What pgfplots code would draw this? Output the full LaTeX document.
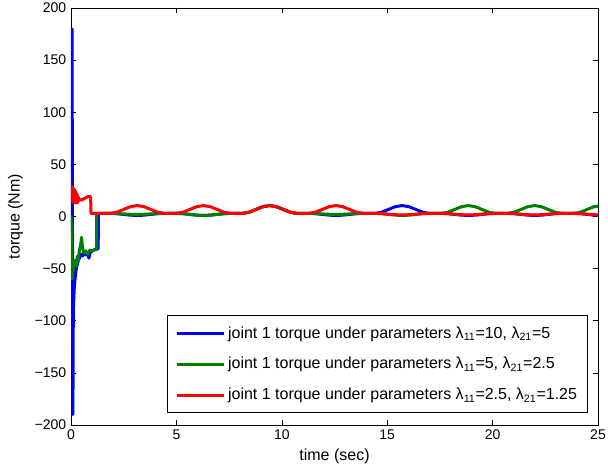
\documentclass[border=0pt]{standalone}
\usepackage{fontspec}
\setmainfont{Liberation Sans}
\usepackage{pgfplots}
\pgfplotsset{compat=1.18}
\definecolor{mblue}{rgb}{0,0,1}
\definecolor{mgreen}{rgb}{0,0.5,0}
\definecolor{mred}{rgb}{1,0,0}
\begin{document}
\begin{tikzpicture}
\begin{axis}[name=ax, scale only axis, width=395.25pt, height=312.75pt,
 xmin=0,xmax=25,ymin=-200,ymax=200,
 xtick={0,5,...,25}, ytick={-200,-150,...,200},
 yticklabels={−200,−150,−100,−50,0,50,100,150,200},
 tick align=inside, tick pos=both, major tick length=4pt,
 tick style={black, line width=0.4pt},
 axis line style={black, line width=0.5pt},
 /pgf/number format/assume math mode=true,
 ticklabel style={font=\fontsize{10.5}{12}\selectfont},
 xlabel={time (sec)}, ylabel={torque (Nm)},
 label style={font=\fontsize{12}{14}\selectfont},
 ylabel style={yshift=2pt},
 legend style={at={(axis description cs:0.981,0.029)}, anchor=south east, draw=black, fill=white, line width=0.5pt,
   font=\fontsize{12}{14}\selectfont, cells={anchor=west}, row sep=9pt, inner xsep=6pt, inner ysep=6pt},
 legend image code/.code={\draw[#1, line width=2.25pt] (0pt,0pt) -- (35pt,0pt);},
 every axis plot/.append style={line width=2.25pt, line join=round},
]
\addplot[mblue] coordinates {
(0,0)(0.05,180)(0.09,-190)(0.11,-90)(0.15,-70)(0.2,-58)(0.25,-50)(0.3,-46)(0.35,-42)(0.4,-40)(0.45,-37)(0.5,-36)(0.55,-38)(0.6,-35)(0.7,-37)(0.8,-36)(0.85,-40)(0.9,-35)(1.0,-33)(1.1,-32)(1.2,-31)(1.29,-31)(1.3,3)
(1.842,3)(2.167,2.71)(2.492,2)(2.817,1.29)(3.142,1)(3.467,1.29)(3.792,2)(4.117,2.71)(4.442,3)
(4.983,3)(5.308,2.71)(5.633,2)(5.958,1.29)(6.283,1)(6.608,1.29)(6.933,2)(7.258,2.71)(7.583,3)
(8.125,3)(8.450,4.1)(8.775,6.75)(9.100,9.4)(9.425,10.5)(9.750,9.4)(10.075,6.75)(10.400,4.1)(10.725,3)
(11.266,3)(11.591,2.71)(11.916,2)(12.241,1.29)(12.566,1)(12.891,1.29)(13.216,2)(13.541,2.71)(13.866,3)
(14.408,3)(14.733,4.1)(15.058,6.75)(15.383,9.4)(15.708,10.5)(16.033,9.4)(16.358,6.75)(16.683,4.1)(17.008,3)
(17.550,3)(17.875,2.71)(18.200,2)(18.525,1.29)(18.850,1)(19.175,1.29)(19.500,2)(19.825,2.71)(20.150,3)
(20.691,3)(21.016,2.71)(21.341,2)(21.666,1.29)(21.991,1)(22.316,1.29)(22.641,2)(22.966,2.71)(23.291,3)
(23.833,3)(24.158,2.71)(24.483,2)(24.808,1.29)(25.133,1)
};
\addlegendentry{joint 1 torque under parameters λ\textsubscript{11}=10, λ\textsubscript{21}=5}
\addplot[mgreen] coordinates {
(0,0)(0.02,-10)(0.05,-60)(0.1,-50)(0.15,-45)(0.2,-42)(0.25,-48)(0.3,-38)(0.35,-42)(0.4,-32)(0.45,-28)(0.5,-20)(0.55,-30)(0.6,-35)(0.7,-33)(0.8,-36)(0.9,-32)(1.0,-33)(1.1,-32)(1.21,-32)(1.22,3)
(1.842,3)(2.167,2.85)(2.492,2.5)(2.817,2.15)(3.142,2)(3.467,2.15)(3.792,2.5)(4.117,2.85)(4.442,3)
(4.983,3)(5.308,2.71)(5.633,2)(5.958,1.29)(6.283,1)(6.608,1.29)(6.933,2)(7.258,2.71)(7.583,3)
(8.125,3)(8.450,4.1)(8.775,6.75)(9.100,9.4)(9.425,10.5)(9.750,9.4)(10.075,6.75)(10.400,4.1)(10.725,3)
(11.266,3)(11.591,2.85)(11.916,2.5)(12.241,2.15)(12.566,2)(12.891,2.15)(13.216,2.5)(13.541,2.85)(13.866,3)
(14.408,3)(14.733,2.71)(15.058,2)(15.383,1.29)(15.708,1)(16.033,1.29)(16.358,2)(16.683,2.71)(17.008,3)
(17.550,3)(17.875,4.1)(18.200,6.75)(18.525,9.4)(18.850,10.5)(19.175,9.4)(19.500,6.75)(19.825,4.1)(20.150,3)
(20.691,3)(21.016,4.1)(21.341,6.75)(21.666,9.4)(21.991,10.5)(22.316,9.4)(22.641,6.75)(22.966,4.1)(23.291,3)
(23.833,3)(24.158,4.1)(24.483,6.75)(24.808,9.4)(25.133,10.5)
};
\addlegendentry{joint 1 torque under parameters λ\textsubscript{11}=5, λ\textsubscript{21}=2.5}
\addplot[mred] coordinates {
(0,28)(0.02,16)(0.04,29)(0.06,15)(0.08,28)(0.1,14)(0.12,27)(0.14,14)(0.16,26)(0.18,13)(0.2,25)(0.22,13)(0.24,23)(0.26,13)(0.28,22)(0.3,13)(0.32,20)(0.34,14)(0.36,18)(0.4,16)(0.5,16)(0.6,17)(0.7,18)(0.8,19)(0.93,19)(0.95,3)
(1.842,3)(2.167,4.1)(2.492,6.75)(2.817,9.4)(3.142,10.5)(3.467,9.4)(3.792,6.75)(4.117,4.1)(4.442,3)
(4.983,3)(5.308,4.1)(5.633,6.75)(5.958,9.4)(6.283,10.5)(6.608,9.4)(6.933,6.75)(7.258,4.1)(7.583,3)
(8.125,3)(8.450,4.1)(8.775,6.75)(9.100,9.4)(9.425,10.5)(9.750,9.4)(10.075,6.75)(10.400,4.1)(10.725,3)
(11.266,3)(11.591,4.1)(11.916,6.75)(12.241,9.4)(12.566,10.5)(12.891,9.4)(13.216,6.75)(13.541,4.1)(13.866,3)
(14.408,3)(14.733,2.78)(15.058,2.25)(15.383,1.72)(15.708,1.5)(16.033,1.72)(16.358,2.25)(16.683,2.78)(17.008,3)
(17.550,3)(17.875,2.78)(18.200,2.25)(18.525,1.72)(18.850,1.5)(19.175,1.72)(19.500,2.25)(19.825,2.78)(20.150,3)
(20.691,3)(21.016,2.78)(21.341,2.25)(21.666,1.72)(21.991,1.5)(22.316,1.72)(22.641,2.25)(22.966,2.78)(23.291,3)
(23.833,3)(24.158,2.78)(24.483,2.25)(24.808,1.72)(25.133,1.5)
};
\addlegendentry{joint 1 torque under parameters λ\textsubscript{11}=2.5, λ\textsubscript{21}=1.25}
\end{axis}
\pgfresetboundingbox
\path ([shift={(-53.25pt,-33.75pt)}]ax.south west) rectangle ([shift={(7.5pt,6pt)}]ax.north east);
\end{tikzpicture}
\end{document}
